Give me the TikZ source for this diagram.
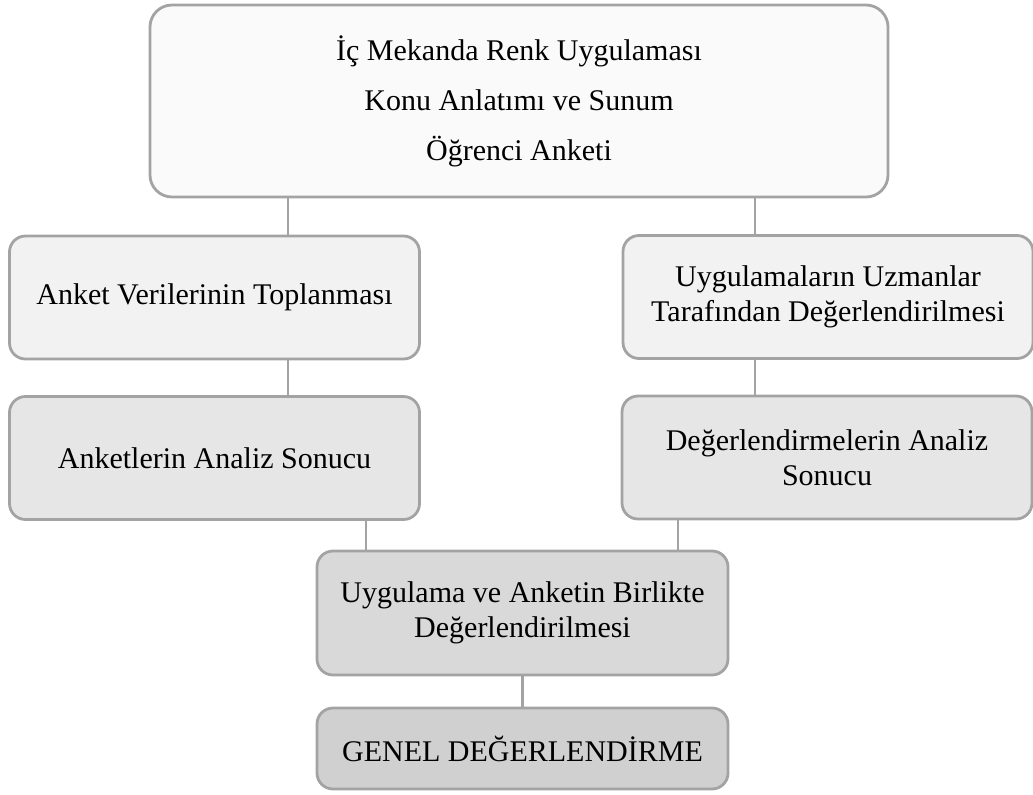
\documentclass[tikz,border=0pt]{standalone}
\usepackage{fontspec}
\setmainfont{Liberation Serif}
\usepackage{xcolor}
\usetikzlibrary{calc}

\definecolor{edgegray}{HTML}{A3A3A3}
\definecolor{topfill}{HTML}{FAFAFA}
\definecolor{lvlone}{HTML}{F2F2F2}
\definecolor{lvltwo}{HTML}{E6E6E6}
\definecolor{lvlthree}{HTML}{D9D9D9}
\definecolor{lvlfour}{HTML}{D0D0D0}

\begin{document}
\begin{tikzpicture}[
  x=0.5pt, y=-0.5pt,
  every node/.style={align=center, rounded corners=8pt, draw=edgegray, line width=1.4pt, inner sep=3pt,
    font=\fontsize{15}{17.5}\selectfont},
  head/.style={fill=topfill, rounded corners=11pt, minimum width=369pt, minimum height=96pt,
    font=\fontsize{15}{25}\selectfont},
  first/.style={fill=lvlone, minimum width=205pt, minimum height=61.5pt},
  second/.style={fill=lvltwo, minimum width=205pt, minimum height=61.5pt},
  merge/.style={fill=lvlthree, minimum width=205.5pt, minimum height=62pt},
  final/.style={fill=lvlfour, minimum width=205.5pt, minimum height=40.5pt},
  link/.style={draw=edgegray, line width=1.4pt},
]
\useasboundingbox (0,0) rectangle (1033,794);

% Layer 1 — topic
\node[head] (top) at (519,101) {İç Mekanda Renk Uygulaması\\Konu Anlatımı ve Sunum\\Öğrenci Anketi};

% Layer 2 — two branches
\node[first] (anket) at (214.5,297.5) {Anket Verilerinin Toplanması};
\node[first] (uzman) at (828,297) {Uygulamaların Uzmanlar\\Tarafından Değerlendirilmesi};

% Layer 3 — analysis
\node[second] (analiz) at (214.5,458) {Anketlerin Analiz Sonucu};
\node[second] (sonuc) at (827,457.5) {Değerlendirmelerin Analiz\\Sonucu};

% Layer 4 — joint evaluation
\node[merge] (birlikte) at (522.5,613) {Uygulama ve Anketin Birlikte\\Değerlendirilmesi};
\node[final] (genel) at (522.5,748.5) {GENEL DEĞERLENDİRME};

% connector columns
\coordinate (lcol) at (288,0);
\coordinate (rcol) at (755,0);
\coordinate (lmid) at (366,0);
\coordinate (rmid) at (678,0);

% connectors
\draw[link] (top.south -| lcol) -- (anket.north -| lcol);
\draw[link] (top.south -| rcol) -- (uzman.north -| rcol);
\draw[link] (anket.south -| lcol) -- (analiz.north -| lcol);
\draw[link] (uzman.south -| rcol) -- (sonuc.north -| rcol);
\draw[link] (analiz.south -| lmid) -- (birlikte.north -| lmid);
\draw[link] (sonuc.south -| rmid) -- (birlikte.north -| rmid);
\draw[link] (birlikte) -- (genel);

\end{tikzpicture}
\end{document}
